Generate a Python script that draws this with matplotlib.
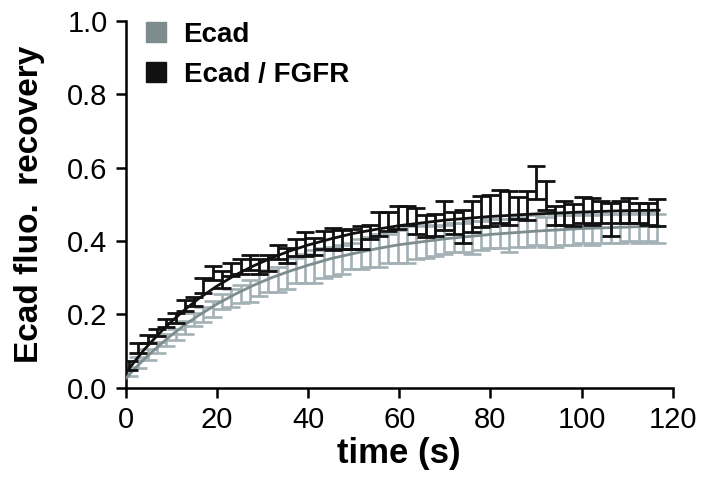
import matplotlib
matplotlib.use("Agg")
import matplotlib.pyplot as plt
from matplotlib.lines import Line2D

plt.rcParams["font.family"] = ["Liberation Sans", "DejaVu Sans"]

# sampling times (s)
time_s = [0.8, 2.8, 4.9, 6.9, 8.9, 11.0, 13.0, 15.0, 17.0, 19.1,
          21.1, 23.1, 25.2, 27.2, 29.2, 31.3, 33.3, 35.3, 37.3, 39.4,
          41.4, 43.4, 45.5, 47.5, 49.5, 51.6, 53.6, 55.6, 57.6, 59.7,
          61.7, 63.7, 65.8, 67.8, 69.8, 71.9, 73.9, 75.9, 77.9, 80.0,
          82.0, 84.0, 86.1, 88.1, 90.1, 92.2, 94.2, 96.2, 98.2, 100.3,
          102.3, 104.3, 106.4, 108.4, 110.4, 112.5, 114.5, 116.5]

# Ecad / FGFR (black): mean and SEM
fgfr_mean = [0.060, 0.108, 0.133, 0.150, 0.176, 0.190, 0.225, 0.235, 0.279, 0.313,
             0.295, 0.322, 0.330, 0.341, 0.330, 0.340, 0.370, 0.360, 0.382, 0.392,
             0.386, 0.402, 0.405, 0.404, 0.405, 0.409, 0.425, 0.446, 0.453, 0.464,
             0.470, 0.455, 0.440, 0.445, 0.470, 0.450, 0.440, 0.466, 0.480, 0.483,
             0.495, 0.490, 0.490, 0.497, 0.560, 0.525, 0.470, 0.477, 0.470, 0.485,
             0.481, 0.480, 0.460, 0.480, 0.483, 0.477, 0.474, 0.478]
fgfr_err = [0.012, 0.013, 0.010, 0.010, 0.011, 0.013, 0.015, 0.012, 0.021, 0.018,
            0.023, 0.018, 0.020, 0.020, 0.020, 0.023, 0.020, 0.020, 0.023, 0.033,
            0.023, 0.025, 0.030, 0.027, 0.028, 0.032, 0.020, 0.032, 0.026, 0.032,
            0.025, 0.035, 0.030, 0.030, 0.040, 0.030, 0.045, 0.042, 0.043, 0.042,
            0.045, 0.046, 0.030, 0.040, 0.045, 0.040, 0.025, 0.032, 0.030, 0.035,
            0.036, 0.030, 0.045, 0.030, 0.034, 0.028, 0.030, 0.036]

# Ecad (grey): mean and SEM
ecad_mean = [0.045, 0.070, 0.090, 0.110, 0.130, 0.145, 0.165, 0.185, 0.200, 0.215,
             0.235, 0.245, 0.255, 0.265, 0.280, 0.290, 0.295, 0.305, 0.320, 0.325,
             0.330, 0.340, 0.345, 0.350, 0.360, 0.365, 0.370, 0.375, 0.380, 0.385,
             0.390, 0.395, 0.400, 0.400, 0.405, 0.410, 0.410, 0.410, 0.415, 0.420,
             0.420, 0.415, 0.425, 0.430, 0.430, 0.425, 0.430, 0.430, 0.430, 0.435,
             0.430, 0.435, 0.435, 0.435, 0.440, 0.435, 0.440, 0.435]
ecad_err = [0.012, 0.015, 0.015, 0.015, 0.016, 0.016, 0.018, 0.018, 0.020, 0.022,
            0.020, 0.025, 0.025, 0.030, 0.030, 0.030, 0.035, 0.035, 0.035, 0.040,
            0.045, 0.040, 0.040, 0.040, 0.035, 0.040, 0.040, 0.045, 0.040, 0.045,
            0.050, 0.045, 0.045, 0.040, 0.040, 0.040, 0.040, 0.045, 0.040, 0.040,
            0.040, 0.045, 0.040, 0.045, 0.040, 0.040, 0.045, 0.040, 0.040, 0.040,
            0.040, 0.040, 0.040, 0.040, 0.040, 0.040, 0.040, 0.040]

# fitted recovery curves, read at these times
fit_t = [0, 2, 4, 6, 8, 10, 13, 16, 20, 24, 28, 32, 36, 40, 45, 50, 55, 60,
         70, 80, 90, 100, 110, 117]
fgfr_fit = [0.040, 0.072, 0.103, 0.130, 0.156, 0.180, 0.213, 0.243, 0.277, 0.307,
            0.332, 0.354, 0.373, 0.389, 0.406, 0.421, 0.432, 0.442,
            0.457, 0.467, 0.474, 0.479, 0.483, 0.484]
ecad_fit = [0.025, 0.052, 0.077, 0.100, 0.122, 0.143, 0.172, 0.197, 0.228, 0.255,
            0.279, 0.300, 0.318, 0.334, 0.352, 0.366, 0.379, 0.390,
            0.406, 0.418, 0.427, 0.434, 0.438, 0.441]

grey_bar = "#a3b1b5"
grey_line = "#7d8d8e"
black = "#111111"

fig = plt.figure(figsize=(7.06, 4.88), dpi=100)
ax = fig.add_axes([0.178, 0.2055, 0.775, 0.7515])

ax.errorbar(time_s, ecad_mean, yerr=ecad_err, fmt="none", ecolor=grey_bar,
            elinewidth=1.9, capsize=6.5, capthick=1.9, zorder=2)
ax.plot(fit_t, ecad_fit, color=grey_line, lw=2.0, zorder=3)
ax.errorbar(time_s, fgfr_mean, yerr=fgfr_err, fmt="none", ecolor=black,
            elinewidth=2.0, capsize=6.5, capthick=2.0, zorder=4)
ax.plot(fit_t, fgfr_fit, color=black, lw=2.0, zorder=5)

ax.set_xlim(0, 120)
ax.set_ylim(0, 1.0)
ax.set_xticks([0, 20, 40, 60, 80, 100, 120])
ax.set_yticks([0.0, 0.2, 0.4, 0.6, 0.8, 1.0])
ax.set_yticklabels(["0.0", "0.2", "0.4", "0.6", "0.8", "1.0"])
ax.tick_params(direction="out", length=7, width=1.8, labelsize=21, pad=6)
for side in ("top", "right"):
    ax.spines[side].set_visible(False)
for side in ("left", "bottom"):
    ax.spines[side].set_linewidth(1.8)

ax.set_xlabel("time (s)", fontsize=25, fontweight="bold", labelpad=2)
ax.set_ylabel("Ecad fluo.  recovery", fontsize=24, fontweight="bold", labelpad=16)

handles = [Line2D([], [], marker="s", ls="none", color=grey_line, markersize=15),
           Line2D([], [], marker="s", ls="none", color=black, markersize=15)]
ax.legend(handles, ["Ecad", "Ecad / FGFR"], loc="upper left",
          bbox_to_anchor=(-0.016, 1.065), frameon=False, handlelength=1.0,
          handletextpad=0.5, labelspacing=0.5,
          prop={"weight": "bold", "size": 20})

fig.savefig("out.png", dpi=100)
